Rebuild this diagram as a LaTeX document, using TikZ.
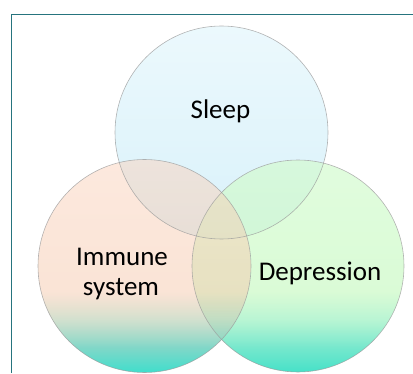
\documentclass[tikz,border=0pt]{standalone}
\usepackage{fontspec}
\setmainfont{Carlito}
\usetikzlibrary{fadings}
\definecolor{framecol}{RGB}{38,116,126}
\definecolor{outlinecol}{RGB}{155,155,155}
% colour shadings (the path's box spans 25bp..75bp)
\pgfdeclareverticalshading{sleepshade}{100bp}{%
  color(0bp)=(rgb,255:red,179;green,228;blue,245);
  color(25bp)=(rgb,255:red,179;green,228;blue,245);
  color(75bp)=(rgb,255:red,217;green,243;blue,251);
  color(100bp)=(rgb,255:red,217;green,243;blue,251)}
\pgfdeclareverticalshading{immuneshade}{100bp}{%
  color(0bp)=(rgb,255:red,64;green,222;blue,204);
  color(25bp)=(rgb,255:red,64;green,222;blue,204);
  color(31bp)=(rgb,255:red,130;green,215;blue,200);
  color(37.5bp)=(rgb,255:red,195;green,214;blue,190);
  color(44bp)=(rgb,255:red,245;green,201;blue,173);
  color(75bp)=(rgb,255:red,251;green,211;blue,189);
  color(100bp)=(rgb,255:red,251;green,211;blue,189)}
\pgfdeclareverticalshading{depshade}{100bp}{%
  color(0bp)=(rgb,255:red,70;green,225;blue,200);
  color(25bp)=(rgb,255:red,70;green,225;blue,200);
  color(31bp)=(rgb,255:red,120;green,232;blue,205);
  color(37.5bp)=(rgb,255:red,173;green,243;blue,204);
  color(44bp)=(rgb,255:red,202;green,249;blue,196);
  color(75bp)=(rgb,255:red,212;green,251;blue,208);
  color(100bp)=(rgb,255:red,212;green,251;blue,208)}
% opacity fadings: opaque at the bottom, partly transparent above
\pgfdeclareverticalshading{immfadeshade}{100bp}{%
  color(0bp)=(white); color(25bp)=(white); color(31bp)=(white);
  color(44bp)=(black!50); color(100bp)=(black!50)}
\pgfdeclarefading{immfade}{\pgfuseshading{immfadeshade}}
\pgfdeclareverticalshading{depfadeshade}{100bp}{%
  color(0bp)=(white); color(25bp)=(white); color(31bp)=(white);
  color(44bp)=(black!30); color(100bp)=(black!30)}
\pgfdeclarefading{depfade}{\pgfuseshading{depfadeshade}}
\tikzset{
  label/.style={font=\fontsize{27}{30}\selectfont, text=black, inner sep=0pt, anchor=base},
  outline/.style={draw=outlinecol, draw opacity=0.75, line width=0.6pt},
}
\begin{document}
\begin{tikzpicture}[x=1pt,y=1pt]
\useasboundingbox (0,0) rectangle (413,373);
\coordinate (sleepc) at (221.5,240.5);
\coordinate (immc) at (144.5,107);
\coordinate (depc) at (298,107);
% fills
\shade[shading=sleepshade, fill opacity=0.5] (sleepc) circle (106.5);
\shade[shading=depshade, path fading=depfade] (depc) circle (106);
\shade[shading=immuneshade, path fading=immfade] (immc) circle (106.5);
% outlines
\draw[outline] (sleepc) circle (106.5);
\draw[outline] (depc) circle (106);
\draw[outline] (immc) circle (106.5);
% frame
\draw[framecol, line width=1pt] (11,0) -- (11,358.7) -- (413,358.7);
% labels
\node[label] (sleep) at (220.5,254.5) {Sleep};
\node[label] (immune) at (122,107.5) {Immune};
\node[label] (system) at (121,77.5) {system};
\node[label] (depression) at (320,92.5) {Depression};
\end{tikzpicture}
\end{document}
